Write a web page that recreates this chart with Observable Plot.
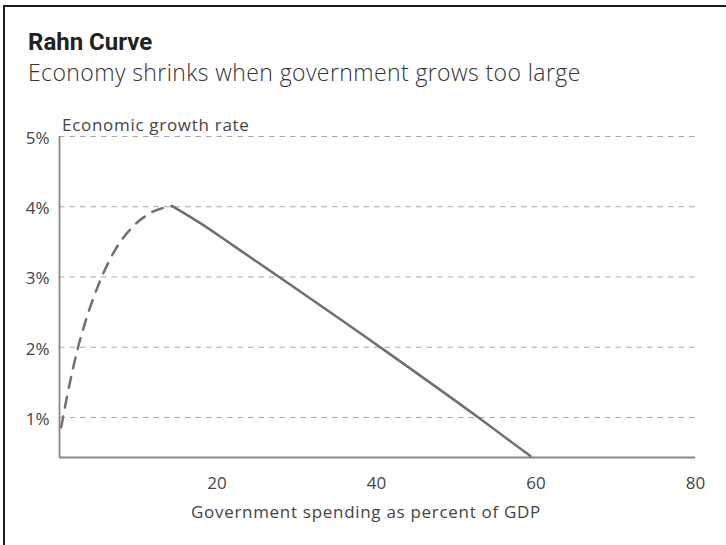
<!DOCTYPE html>
<html>
<head>
<meta charset="utf-8">
<script src="https://cdn.jsdelivr.net/npm/d3@7"></script>
<script src="https://cdn.jsdelivr.net/npm/@observablehq/plot@0.6"></script>
<style>
  html, body { margin: 0; padding: 0; background: #fff; width: 726px; height: 545px; overflow: hidden; position: relative; }
  .frame { position: absolute; left: 3px; top: 5px; width: 900px; height: 700px; border-left: 2px solid #1e1e1e; border-top: 2px solid #1e1e1e; }
  .title { position: absolute; left: 28px; top: 30px; font-family: Roboto, sans-serif; font-weight: 700; font-size: 24px; line-height: 24px; color: #222; white-space: nowrap; }
  .subtitle { position: absolute; left: 28px; top: 60.6px; font-family: "Open Sans", sans-serif; font-weight: 300; font-size: 23px; line-height: 23px; letter-spacing: 0.4px; color: #333; white-space: nowrap; }
  #chart { position: absolute; left: 0; top: 100px; }
</style>
</head>
<body>
<div class="frame"></div>
<div class="title">Rahn Curve</div>
<div class="subtitle">Economy shrinks when government grows too large</div>
<div id="chart"></div>
<script>
// Dashed (theoretical) rising part of the curve
const dashedX = [0.46, 1.2, 2.47, 3.6, 5.18, 7.2, 9.57, 11.8, 14.38];
const dashedY = [0.86, 1.30, 1.95, 2.40, 2.90, 3.38, 3.73, 3.92, 4.01];
// Solid declining part of the curve
const solidX = [14.38, 18, 22, 40.71, 53.25, 59.3];
const solidY = [4.01, 3.76, 3.45, 1.98, 0.96, 0.45];

const xTicks = [20, 40, 60, 80];
const yTicks = [1, 2, 3, 4, 5];
const xDomain = [0.25, 80];
const yDomain = [0.43, 5];
const yLabel = "Economic growth rate";
const xLabel = "Government spending as percent of GDP";

const dashed = dashedX.map((x, i) => ({x, y: dashedY[i]}));
const solid = solidX.map((x, i) => ({x, y: solidY[i]}));

const lineColor = "#707070";
const textColor = "#444";

const chart = Plot.plot({
  width: 726,
  height: 445,
  marginLeft: 59,
  marginRight: 31,
  marginTop: 36,
  marginBottom: 88,
  style: {fontFamily: "'Open Sans', sans-serif", fontSize: "17px", color: textColor, background: "transparent"},
  x: {domain: xDomain, ticks: xTicks},
  y: {domain: yDomain, ticks: yTicks},
  marks: [
    Plot.gridY(yTicks, {stroke: "#a8a8a8", strokeOpacity: 1, strokeWidth: 1, strokeDasharray: "5.5,5"}),
    Plot.axisX(xTicks, {tickSize: 0, tickPadding: 19, label: null, fontSize: 17, fill: textColor}),
    Plot.axisY(yTicks, {tickSize: 0, tickPadding: 10, dy: 2, label: null, tickFormat: d => d + "%", fontSize: 17, fill: textColor}),
    Plot.ruleX([xDomain[0]], {stroke: "#888", strokeWidth: 1.8}),
    Plot.ruleY([yDomain[0]], {stroke: "#888", strokeWidth: 1.8}),
    Plot.line(dashed, {x: "x", y: "y", curve: "monotone-x", stroke: lineColor, strokeWidth: 2.5, strokeDasharray: "11,9"}),
    Plot.line(solid, {x: "x", y: "y", curve: "monotone-x", stroke: lineColor, strokeWidth: 2.5}),
    Plot.text([yLabel], {text: d => d, frameAnchor: "top-left", textAnchor: "start", lineAnchor: "bottom", dx: 2.5, dy: -5.5, fontSize: 17, fill: textColor}),
    Plot.text([xLabel], {text: d => d, frameAnchor: "bottom", textAnchor: "middle", lineAnchor: "bottom", dx: -11.5, dy: 60, fontSize: 17, fill: textColor})
  ]
});
d3.select(chart).selectAll("g[aria-label='text'] text").style("letter-spacing", "0.7px");
document.getElementById("chart").appendChild(chart);
</script>
</body>
</html>
